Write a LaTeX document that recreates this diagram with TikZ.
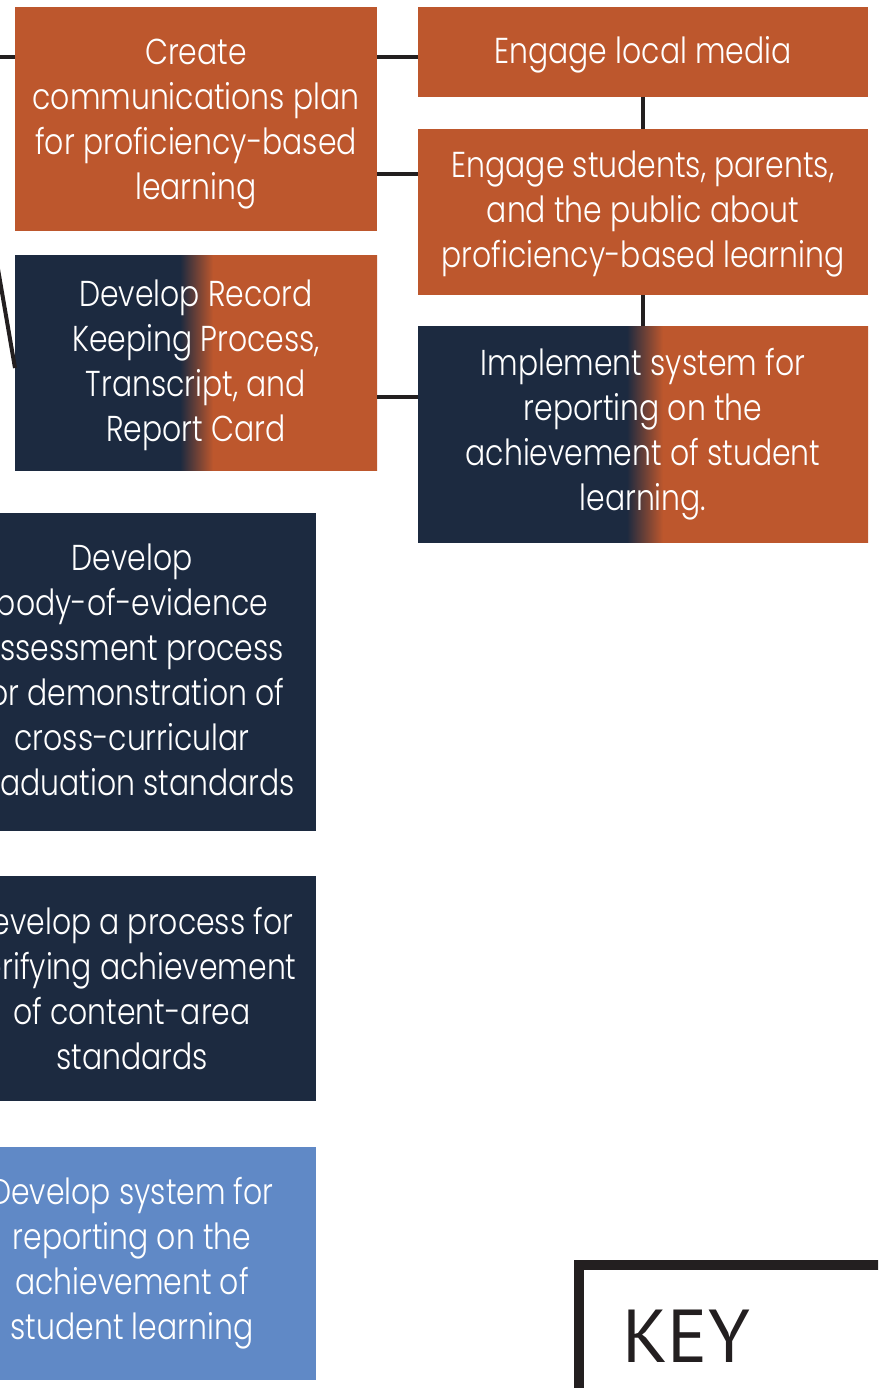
\documentclass[tikz,border=0pt]{standalone}
\usepackage{fontspec}
\setmainfont{Poppins}[UprightFont=* Light, FakeStretch=0.83]
\newfontfamily\keyfont{PT Sans}
\definecolor{rust}{HTML}{BD572D}
\definecolor{navy}{HTML}{1C2A40}
\definecolor{skyblue}{HTML}{6089C6}
\definecolor{ink}{HTML}{231F20}
\pgfdeclarehorizontalshading{gradD}{100bp}{color(0bp)=(navy); color(47.8bp)=(navy); color(52.35bp)=(rust); color(100bp)=(rust)}
\pgfdeclarehorizontalshading{gradE}{100bp}{color(0bp)=(navy); color(48.2bp)=(navy); color(52.2bp)=(rust); color(100bp)=(rust)}
\newcommand\lowerby[1]{\raisebox{#1}{\vphantom{Cdlfk}}}
\tikzset{
  box/.style={rectangle, inner sep=0pt, outer sep=0pt, align=center, text=white,
    font=\fontsize{36}{45}\selectfont},
  conn/.style={draw=ink, line width=4.5pt}
}
\begin{document}
\begin{tikzpicture}[x=1pt,y=-1pt]
\useasboundingbox (0,0) rectangle (878,1388);
\clip (0,0) rectangle (878,1388);

\node[box, fill=rust, minimum width=362pt, minimum height=224pt] (A) at (196,119)
  {\lowerby{8pt}Create\\communications plan\\for proficiency-based\\learning};
\node[box, fill=rust, minimum width=450pt, minimum height=90pt] (B) at (643,52)
  {\lowerby{6pt}Engage local media};
\node[box, fill=rust, minimum width=450pt, minimum height=166pt] (C) at (643,212)
  {\lowerby{4pt}Engage students, parents,\\and the public about\\proficiency-based learning};
\node[box, shade, shading=gradD, minimum width=362pt, minimum height=215pt] (D) at (196,362.5)
  {\lowerby{6pt}Develop Record\\Keeping Process,\\Transcript, and\\Report Card};
\node[box, shade, shading=gradE, minimum width=450pt, minimum height=216pt] (E) at (643,434)
  {Implement system for\\reporting on the\\achievement of student\\learning.};
\node[box, fill=navy, minimum width=368pt, minimum height=318pt] (F) at (132,672)
  {\lowerby{4pt}Develop\\body-of-evidence\\assessment process\\for demonstration of\\cross-curricular\\graduation standards};
\node[box, fill=navy, minimum width=368pt, minimum height=225pt] (G) at (132,988.5)
  {Develop a process for\\verifying achievement\\of content-area\\standards};
\node[box, fill=skyblue, minimum width=368pt, minimum height=233pt] (H) at (132,1263.5)
  {Develop system for\\reporting on the\\achievement of\\student learning};

% connectors
\coordinate (lA) at (-10,57);
\draw[conn] (lA) -- (lA -| A.west);
\coordinate (ab) at ([yshift=-5pt]B.west);
\draw[conn] (A.east |- ab) -- (ab);
\coordinate (ac) at ([yshift=38pt]C.west);
\draw[conn] (A.east |- ac) -- (ac);
\draw[conn] (B.south) -- (C.north);
\draw[conn] (C.south) -- (E.north);
\coordinate (de) at ([yshift=37pt]E.west);
\draw[conn] (D.east |- de) -- (de);
\coordinate (dg) at (-12,211);
\draw[draw=ink, line width=4pt] (dg) -- ([yshift=-5.5pt]D.west);

% key
\draw[draw=ink, line width=10pt] (579,1400) |- (890,1264.5);
\node[anchor=base west, inner sep=0pt, text=ink, font=\keyfont\fontsize{75}{75}\selectfont] (key) at (622,1362) {KEY};
\end{tikzpicture}
\end{document}
